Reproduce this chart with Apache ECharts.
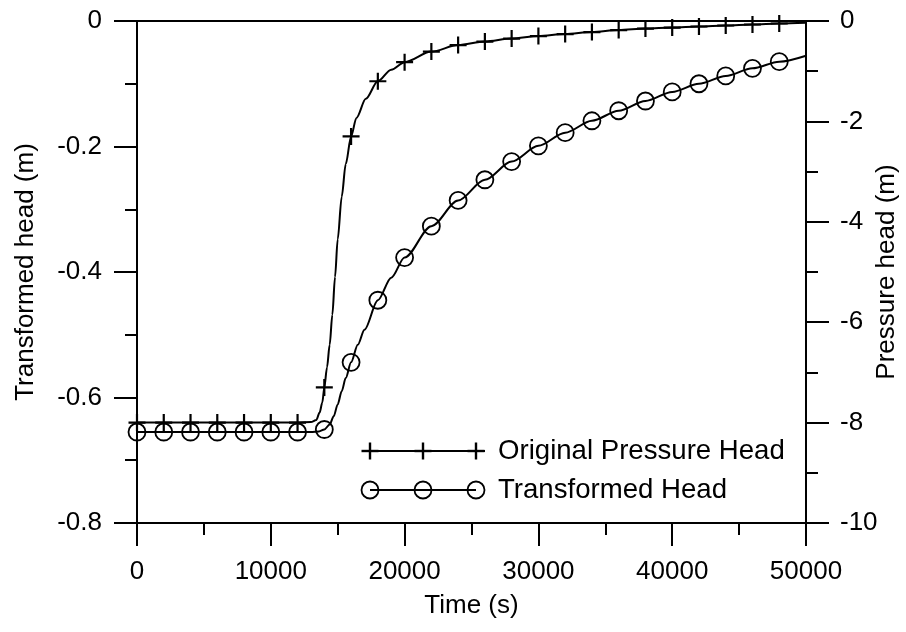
<!DOCTYPE html>
<html>
<head>
<meta charset="utf-8">
<script src="https://cdn.jsdelivr.net/npm/echarts@6/dist/echarts.min.js"></script>
<style>
html,body{margin:0;padding:0;background:#fff;}
#chart{width:906px;height:632px;}
</style>
</head>
<body>
<div id="chart"></div>
<script>
// ---- data ----
const pressureTimes = [0,2000,4000,6000,8000,10000,12000,13000,13400,13650,13850,14000,14200,14400,14600,14800,15000,15300,15600,16000,16400,17100,18000,19000,20000,22000,24000,26000,28000,30000,32000,34000,36000,38000,40000,42000,44000,46000,48000,50000];
const pressureValues = [-8,-8,-8,-8,-8,-8,-8,-7.99,-7.95,-7.8,-7.6,-7.3,-6.9,-6.45,-5.85,-5.1,-4.35,-3.5,-2.85,-2.30,-1.93,-1.55,-1.20,-0.97,-0.82,-0.61,-0.48,-0.41,-0.35,-0.30,-0.26,-0.22,-0.18,-0.15,-0.13,-0.11,-0.09,-0.07,-0.05,-0.035];

const transformedTimes = [0,2000,4000,6000,8000,10000,12000,13000,13600,14000,14400,14700,15000,15300,15600,16000,16500,17000,18000,19000,20000,22000,24000,26000,28000,30000,32000,34000,36000,38000,40000,42000,44000,46000,48000,50000];
const transformedValues = [-0.655,-0.655,-0.655,-0.655,-0.655,-0.655,-0.655,-0.655,-0.654,-0.651,-0.643,-0.630,-0.611,-0.590,-0.569,-0.544,-0.516,-0.492,-0.445,-0.409,-0.377,-0.327,-0.286,-0.253,-0.224,-0.199,-0.178,-0.159,-0.143,-0.1275,-0.113,-0.100,-0.0876,-0.0754,-0.0648,-0.0553];

// marker positions (every 2000 s up to 48000 s)
const markerStep = 2000;
const markerLast = 48000;

const xTicks = {min: 0, max: 50000, interval: 10000};
const leftTicks = {min: -0.8, max: 0, interval: 0.2};
const rightTicks = {min: -10, max: 0, interval: 2};

const seriesNames = ['Original Pressure Head', 'Transformed Head'];
const axisTitles = {x: 'Time (s)', left: 'Transformed head (m)', right: 'Pressure head (m)'};

// ---- chart ----
const FONT = 'Liberation Sans, Arial, Helvetica, sans-serif';
const TICK_FS = 26;
const PLUS = 'path://M5,0 L5,10 M0,5 L10,5';

function zip(a, b) { return a.map((t, i) => [t, b[i]]); }
function isMarker(t) { return t % markerStep === 0 && t <= markerLast; }

const chart = echarts.init(document.getElementById('chart'), null, {renderer: 'canvas'});

const axisCommon = {
  axisLine: {show: true, onZero: false, lineStyle: {color: '#000', width: 2}},
  axisTick: {show: true, inside: false, length: 23, lineStyle: {color: '#000', width: 2}},
  minorTick: {show: true, splitNumber: 2, length: 12, lineStyle: {color: '#000', width: 2}},
  splitLine: {show: false},
  minorSplitLine: {show: false},
  nameMoveOverlap: false,
  axisLabel: {color: '#000', fontSize: TICK_FS, fontFamily: FONT},
  nameTextStyle: {color: '#000', fontSize: TICK_FS, fontFamily: FONT}
};

const option = {
  backgroundColor: '#fff',
  animation: false,
  grid: {left: 137, right: 100, top: 21, bottom: 109, show: true, borderColor: '#000', borderWidth: 2, backgroundColor: 'transparent', containLabel: false, outerBoundsMode: 'none'},
  xAxis: Object.assign({}, axisCommon, {
    type: 'value', min: xTicks.min, max: xTicks.max, interval: xTicks.interval,
    name: axisTitles.x, nameLocation: 'middle', nameGap: 70,
    axisLabel: Object.assign({}, axisCommon.axisLabel, {margin: 36, formatter: v => String(v)})
  }),
  yAxis: [
    Object.assign({}, axisCommon, {
      type: 'value', position: 'left', min: leftTicks.min, max: leftTicks.max, interval: leftTicks.interval,
      name: axisTitles.left, nameLocation: 'middle', nameGap: 98, nameRotate: 90,
      axisLabel: Object.assign({}, axisCommon.axisLabel, {margin: 35, formatter: v => String(+v.toFixed(1))})
    }),
    Object.assign({}, axisCommon, {
      type: 'value', position: 'right', min: rightTicks.min, max: rightTicks.max, interval: rightTicks.interval,
      name: axisTitles.right, nameLocation: 'middle', nameGap: 68, nameRotate: 90,
      axisLabel: Object.assign({}, axisCommon.axisLabel, {margin: 34, formatter: v => String(v)})
    })
  ],
  series: [
    {
      name: seriesNames[0], type: 'line', yAxisIndex: 1,
      data: zip(pressureTimes, pressureValues),
      smooth: 0.3, smoothMonotone: 'x', clip: false,
      showSymbol: true, showAllSymbol: true,
      symbol: v => isMarker(v[0]) ? PLUS : 'none',
      symbolSize: 17,
      lineStyle: {color: '#000', width: 2},
      itemStyle: {color: 'rgba(0,0,0,0)', borderColor: '#000', borderWidth: 2.2},
      emphasis: {disabled: true}
    },
    {
      name: seriesNames[1], type: 'line', yAxisIndex: 0,
      data: zip(transformedTimes, transformedValues),
      smooth: 0.3, smoothMonotone: 'x', clip: false,
      showSymbol: true, showAllSymbol: true,
      symbol: v => isMarker(v[0]) ? 'circle' : 'none',
      symbolSize: 17,
      lineStyle: {color: '#000', width: 2},
      itemStyle: {color: 'rgba(0,0,0,0)', borderColor: '#000', borderWidth: 1.8},
      emphasis: {disabled: true}
    }
  ],
  graphic: [
    // legend row 1
    {type: 'line', shape: {x1: 362, y1: 451, x2: 485, y2: 451}, style: {stroke: '#000', lineWidth: 2}},
    ...[370, 423, 476].flatMap(cx => [
      {type: 'line', shape: {x1: cx - 8.5, y1: 451, x2: cx + 8.5, y2: 451}, style: {stroke: '#000', lineWidth: 2.4}},
      {type: 'line', shape: {x1: cx, y1: 442.5, x2: cx, y2: 459.5}, style: {stroke: '#000', lineWidth: 2.4}}
    ]),
    {type: 'text', x: 498, y: 451, style: {text: seriesNames[0], fill: '#000', font: '27.6px ' + FONT, verticalAlign: 'middle', align: 'left'}},
    // legend row 2
    {type: 'line', shape: {x1: 370, y1: 490, x2: 476, y2: 490}, style: {stroke: '#000', lineWidth: 2}},
    ...[370, 423, 476].map(cx => ({type: 'circle', shape: {cx: cx, cy: 490, r: 8.5}, style: {fill: 'none', stroke: '#000', lineWidth: 1.8}})),
    {type: 'text', x: 498, y: 490, style: {text: seriesNames[1], fill: '#000', font: '27.6px ' + FONT, verticalAlign: 'middle', align: 'left'}}
  ]
};

chart.setOption(option);
</script>
</body>
</html>
